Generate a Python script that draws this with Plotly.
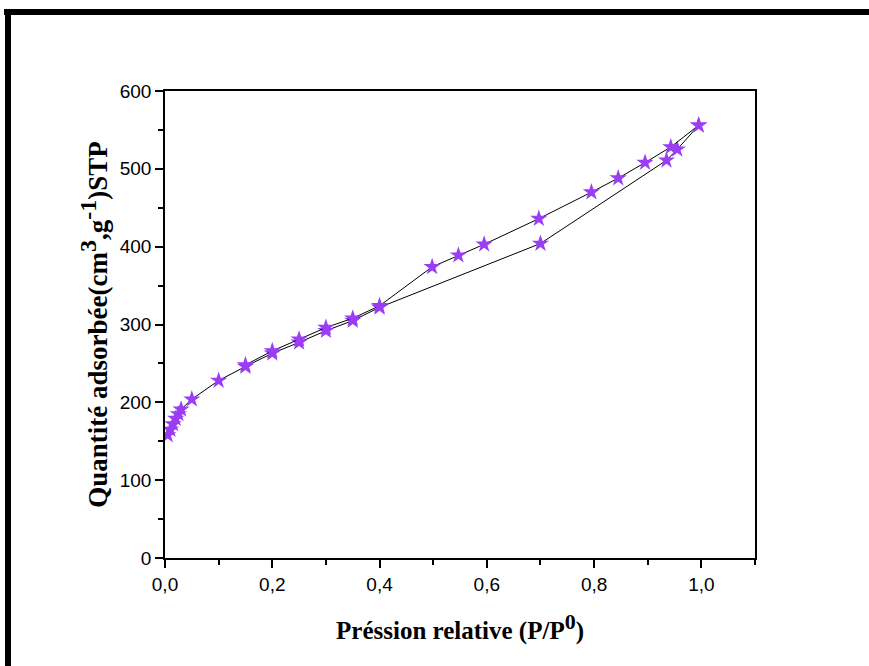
import plotly.graph_objects as go

# Adsorption branch
ads_x = [0.005, 0.01, 0.015, 0.02, 0.025, 0.03, 0.05, 0.10, 0.15, 0.20, 0.25, 0.30, 0.35, 0.40, 0.70, 0.935, 0.955, 0.995]
ads_y = [158, 165, 172, 179, 185, 191, 204, 228, 246, 263, 277, 292, 305, 322, 404, 511, 525, 556]
# Desorption branch
des_x = [0.995, 0.943, 0.895, 0.845, 0.795, 0.697, 0.595, 0.547, 0.498, 0.40, 0.35, 0.30, 0.25, 0.20, 0.15]
des_y = [556, 528, 508, 488, 470, 436, 403, 389, 374, 324, 308, 296, 281, 266, 248]

x_ticks = [0.0, 0.2, 0.4, 0.6, 0.8, 1.0]
y_ticks = [0, 100, 200, 300, 400, 500, 600]

W, H = 869, 666
L, R, T, B = 165, 114, 91, 108
pw, ph = W - L - R, H - T - B

def px(x):
    return (x - L) / pw

def py(y):
    return (H - B - y) / ph

marker = dict(symbol="star", size=13, color="#9B3DF5", line=dict(width=0))
line = dict(color="black", width=1)

fig = go.Figure()
fig.add_trace(go.Scatter(x=ads_x, y=ads_y, mode="lines+markers", marker=marker, line=line, showlegend=False))
fig.add_trace(go.Scatter(x=des_x, y=des_y, mode="lines+markers", marker=marker, line=line, showlegend=False))

axis_common = dict(
    showline=True, linecolor="black", linewidth=1.5, mirror=True,
    showgrid=False, zeroline=False, ticks="outside", ticklen=8, tickwidth=1.5,
    tickcolor="black",
    tickfont=dict(family="Liberation Sans, Arial", size=19, color="black"),
)

x_title_font = dict(family="Liberation Serif, Times New Roman", size=25, color="black")
y_title_font = dict(family="Liberation Serif, Times New Roman", size=27, color="black")
sup_x = "<sup><span style='font-size:22px'>{}</span></sup>"
sup_y = "<sup><span style='font-size:24px'>{}</span></sup>"

fig.update_xaxes(
    range=[0, 1.1], tickvals=x_ticks, tickformat=".1f",
    minor=dict(dtick=0.1, ticks="outside", ticklen=5, tickwidth=1.5, tickcolor="black"),
    title=dict(text="<b>Préssion relative (P/P" + sup_x.format("0") + ")</b>",
               font=x_title_font, standoff=28),
    **axis_common,
)
fig.update_yaxes(
    range=[0, 600], tickvals=y_ticks,
    minor=dict(dtick=50, ticks="outside", ticklen=5, tickwidth=1.5, tickcolor="black"),
    title=dict(text="<b>Quantité adsorbée(cm" + sup_y.format("3") + ",g" + sup_y.format("-1") + ")STP</b>",
               font=y_title_font, standoff=4),
    **axis_common,
)

fig.update_layout(
    width=W, height=H,
    margin=dict(l=L, r=R, t=T, b=B, autoexpand=False),
    paper_bgcolor="white", plot_bgcolor="white",
    separators=", ",
    shapes=[
        dict(type="rect", xref="paper", yref="paper",
             x0=px(4), x1=px(869), y0=py(9), y1=py(15),
             fillcolor="black", line=dict(width=0), layer="above"),
        dict(type="rect", xref="paper", yref="paper",
             x0=px(5), x1=px(11), y0=py(9), y1=py(666),
             fillcolor="black", line=dict(width=0), layer="above"),
    ],
)

fig.write_html("out.html", config={"displayModeBar": False},
               post_script="document.body.style.margin='0';document.body.style.overflow='hidden';")
